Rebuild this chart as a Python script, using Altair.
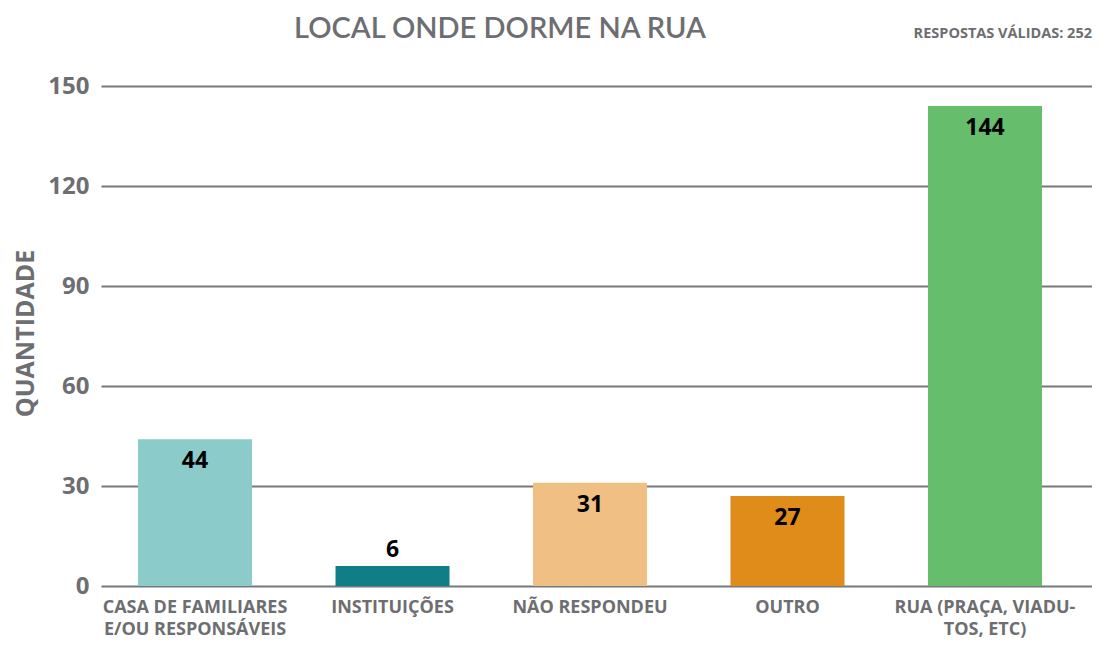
import altair as alt
import pandas as pd

# ---- data ----
categories = [
    "CASA DE FAMILIARES|E/OU RESPONSÁVEIS",
    "INSTITUIÇÕES",
    "NÃO RESPONDEU",
    "OUTRO",
    "RUA (PRAÇA, VIADU-|TOS, ETC)",
]
values = [44, 6, 31, 27, 144]
colors = ["#8bcbc9", "#0f7e86", "#efbf83", "#e08c1a", "#66bd6c"]
y_ticks = [0, 30, 60, 90, 120, 150]
chart_title = ["LOCAL ONDE DORME NA RUA"]
note = ["RESPOSTAS VÁLIDAS: 252"]
y_title = "QUANTIDADE"

GRAY = "#6d6e71"
GRID = "#77787b"

df = pd.DataFrame({"cat": categories, "val": values})

x_enc = alt.X(
    "cat:N",
    sort=categories,
    scale=alt.Scale(paddingInner=0.4228, paddingOuter=0.2203, align=0.4253),
    axis=alt.Axis(
        title=None,
        labelAngle=0,
        labelExpr="split(datum.label, '|')",
        labelFont="Open Sans",
        labelFontSize=18,
        labelFontWeight="bold",
        labelColor=GRAY,
        labelPadding=12,
        labelLineHeight=22,
        labelBaseline="top",
        labelLimit=400,
        labelOverlap=False,
        ticks=False,
        domain=False,
    ),
)

y_enc = alt.Y(
    "val:Q",
    scale=alt.Scale(domain=[0, 150], nice=False),
    axis=alt.Axis(
        values=y_ticks,
        title=y_title,
        titleFont="Open Sans",
        titleFontSize=25,
        titleFontWeight="bold",
        titleColor=GRAY,
        titleAngle=270,
        titleAlign="center",
        titleBaseline="middle",
        titleX=-76,
        titleY=247,
        labelFont="Open Sans",
        labelFontSize=24,
        labelFontWeight="bold",
        labelColor=GRAY,
        labelPadding=12,
        ticks=False,
        domain=False,
        grid=True,
        gridColor=GRID,
        gridWidth=2,
    ),
)

base = alt.Chart(df)

bars = base.mark_bar().encode(
    x=x_enc,
    y=y_enc,
    color=alt.Color("cat:N", scale=alt.Scale(domain=categories, range=colors), legend=None),
)

txt_in = base.transform_filter("datum.val >= 20").mark_text(
    dy=22, font="Open Sans", fontSize=23, fontWeight="bold", color="black", baseline="middle"
).encode(x=alt.X("cat:N", sort=categories), y="val:Q", text="val:Q")

txt_out = base.transform_filter("datum.val < 20").mark_text(
    dy=-16, font="Open Sans", fontSize=23, fontWeight="bold", color="black", baseline="middle"
).encode(x=alt.X("cat:N", sort=categories), y="val:Q", text="val:Q")

title_layer = alt.Chart(pd.DataFrame({"t": chart_title})).mark_text(
    x=399, y=-48, align="center", baseline="alphabetic",
    font="Lato", fontSize=29, fontWeight=600, color=GRAY,
).encode(text="t:N")

note_layer = alt.Chart(pd.DataFrame({"t": note})).mark_text(
    x="width", y=-48, align="right", baseline="alphabetic",
    font="Open Sans", fontSize=14.5, fontWeight="bold", color=GRAY,
).encode(text="t:N")

chart = alt.layer(bars, txt_in, txt_out, title_layer, note_layer).properties(
    width=1084,
    height=630,
    padding={"left": 5, "top": 7, "right": 0, "bottom": 0},
    autosize=alt.AutoSizeParams(type="fit", contains="padding"),
).configure_view(stroke=None)

chart.save("out.html", embed_options={"renderer": "svg", "actions": False})
